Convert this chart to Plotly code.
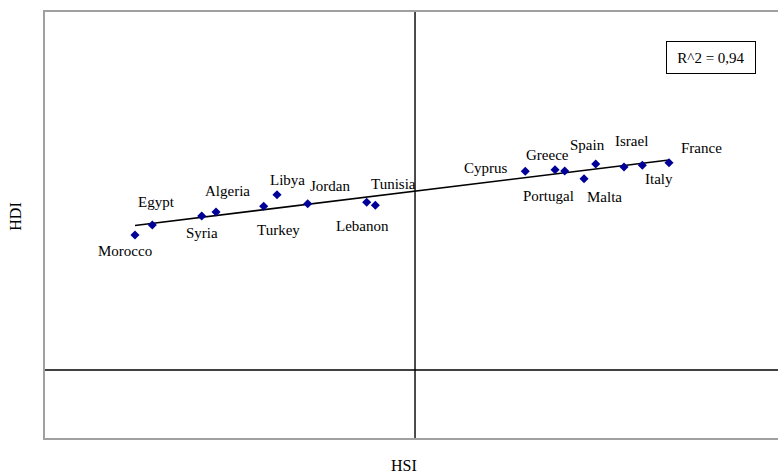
import numpy as np
import plotly.graph_objects as go

countries = ["Morocco", "Egypt", "Syria", "Algeria", "Turkey", "Libya", "Jordan",
             "Lebanon", "Tunisia", "Cyprus", "Greece", "Portugal", "Malta", "Spain",
             "Israel", "Italy", "France"]
hsi = [0.1216, 0.1450, 0.2118, 0.2311, 0.2955, 0.3135, 0.3550,
       0.4347, 0.4464, 0.6490, 0.6892, 0.7023, 0.7284, 0.7442,
       0.7824, 0.8072, 0.8432]
hdi = [0.6885, 0.7025, 0.7151, 0.7207, 0.7286, 0.7448, 0.7322,
       0.7342, 0.7300, 0.7775, 0.7797, 0.7779, 0.7672, 0.7877,
       0.7835, 0.7859, 0.7895]
r2_text = "R^2 = 0,94"
x_title = "HSI"
y_title = "HDI"
x_cross = 0.5
y_cross = 0.5

# label offsets in pixels (dx right, dy down)
label_dx = [-10, 4, 0, 11, 15, 10, 22, -4, 18, -39, -8, -16, 20, -8, 7, 17, 33]
label_dy = [16, -23, 17, -21, 24, -15, -18, 24, -21, -3, -15, 25, 18, -19, -26, 14, -15]

FONT = "Liberation Serif"

fig = go.Figure()

# trend line (least squares)
slope, intercept = np.polyfit(hsi, hdi, 1)
xt = [min(hsi), max(hsi)]
yt = [slope * v + intercept for v in xt]
fig.add_trace(go.Scatter(x=xt, y=yt, mode="lines",
                         line=dict(color="black", width=1.6),
                         hoverinfo="skip", showlegend=False))

fig.add_trace(go.Scatter(x=hsi, y=hdi, mode="markers",
                         marker=dict(symbol="diamond", size=7, color="#000099"),
                         text=countries, showlegend=False))

for c, x, y, dx, dy in zip(countries, hsi, hdi, label_dx, label_dy):
    fig.add_annotation(x=x, y=y, xref="x", yref="y", text=c, showarrow=False,
                       xanchor="center", yanchor="middle",
                       xshift=dx, yshift=-dy,
                       font=dict(family=FONT, size=15, color="black"))

# crossing axis lines
fig.add_shape(type="line", xref="x", yref="paper", x0=x_cross, x1=x_cross, y0=0, y1=1,
              line=dict(color="black", width=1.4))
fig.add_shape(type="line", xref="paper", yref="y", x0=0, x1=1, y0=y_cross, y1=y_cross,
              line=dict(color="black", width=1.4))

# R^2 box
fig.add_annotation(xref="paper", yref="paper", x=0.909, y=0.894, text=r2_text,
                   showarrow=False, xanchor="center", yanchor="middle",
                   bordercolor="black", borderwidth=1, borderpad=4,
                   width=80, height=23, bgcolor="white",
                   font=dict(family=FONT, size=15, color="black"))

# axis titles
fig.add_annotation(xref="paper", yref="paper", x=0.49, y=0, yanchor="middle",
                   yshift=-27, text=x_title, showarrow=False,
                   font=dict(family=FONT, size=16, color="black"))
fig.add_annotation(xref="paper", yref="paper", x=0, y=0.5195, xanchor="center",
                   xshift=-29, text=y_title, showarrow=False, textangle=-90,
                   font=dict(family=FONT, size=16, color="black"))

fig.update_xaxes(range=[0, 0.9905], showgrid=False, zeroline=False, showticklabels=False,
                 ticks="", showline=True, mirror=True, linecolor="#a0a0a0", linewidth=1.5)
fig.update_yaxes(range=[0.405, 1.0], showgrid=False, zeroline=False, showticklabels=False,
                 ticks="", showline=True, mirror=False, linecolor="#a0a0a0", linewidth=1.5)

fig.update_layout(width=778, height=474, margin=dict(l=45, r=0, t=12, b=36),
                  plot_bgcolor="white", paper_bgcolor="white",
                  font=dict(family=FONT))

fig.write_html("out.html", config={"displayModeBar": False},
               post_script="document.body.style.margin='0';document.body.style.overflow='hidden';")
